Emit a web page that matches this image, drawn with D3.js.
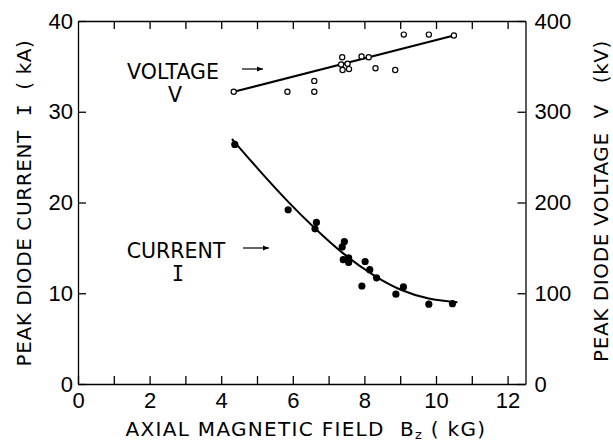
<!DOCTYPE html>
<meta charset="utf-8">
<style>
body { margin: 0; background: #fff; }
svg { font-family: "DejaVu Sans", sans-serif; }
svg text { white-space: pre; }
.axis path, .axis line { stroke: #000; stroke-width: 1.3; }
.axis text { font-size: 22px; fill: #000; }
.title { font-size: 20px; letter-spacing: 0.6px; fill: #000; }
.note { font-size: 20.5px; fill: #000; }
</style>
<body>
<script src="https://cdn.jsdelivr.net/npm/d3@7"></script>
<script>

var width = 613,
    height = 444;

// open circles: diode voltage (kV) vs field (kG)
var voltB = [4.35, 5.85, 6.6, 6.6, 7.38, 7.35, 7.53, 7.39, 7.57, 7.92, 8.12, 8.31, 8.86, 9.1, 9.8, 10.5];
var voltV = [322, 322, 322, 334, 360, 352, 353, 346, 347, 361, 360, 348, 346, 385, 385, 384];

// filled circles: diode current (kA) vs field (kG)
var currB = [4.38, 5.87, 6.66, 6.62, 7.44, 7.38, 7.41, 7.56, 7.56, 8.02, 8.15, 8.34, 7.93, 8.88, 9.09, 9.8, 10.46];
var currI = [26.4, 19.2, 17.8, 17.1, 15.7, 15.1, 13.7, 13.9, 13.4, 13.5, 12.6, 11.7, 10.8, 9.9, 10.7, 8.8, 8.85];

// hand drawn fits
var voltFitB = [4.35, 10.5];
var voltFitV = [322, 384];
var currFitB = [4.3, 5.0, 5.9, 6.6, 7.4, 8.3, 9.0, 9.8, 10.6];
var currFitI = [27.0, 23.8, 19.9, 17.2, 14.3, 11.8, 10.3, 9.3, 9.0];

var xLabels = [0, 2, 4, 6, 8, 10, 12];

var x = d3.scaleLinear().domain([0, 12.5]).range([78, 525.5]);
var y = d3.scaleLinear().domain([0, 40]).range([384, 21]);
var yV = d3.scaleLinear().domain([0, 400]).range([384, 21]);

var svg = d3.select("body").append("svg")
    .attr("width", width)
    .attr("height", height);

svg.append("defs").append("marker")
    .attr("id", "arrow")
    .attr("viewBox", "0 0 10 10")
    .attr("refX", 10).attr("refY", 5)
    .attr("markerWidth", 8).attr("markerHeight", 6)
    .attr("markerUnits", "userSpaceOnUse")
    .attr("orient", "auto")
  .append("path")
    .attr("d", "M0,1L10,5L0,9Z")
    .attr("fill", "#000");

// axes
svg.append("g")
    .attr("class", "axis")
    .attr("transform", "translate(0," + y(0) + ")")
    .call(d3.axisBottom(x)
      .tickValues(d3.range(0, 13))
      .tickSize(-8).tickSizeOuter(0)
      .tickPadding(8)
      .tickFormat(function(d) { return xLabels.indexOf(d) >= 0 ? d : ""; }));

svg.append("g")
    .attr("class", "axis")
    .attr("transform", "translate(0," + y(40) + ")")
    .call(d3.axisTop(x)
      .tickValues(d3.range(1, 13))
      .tickSize(-8).tickSizeOuter(0)
      .tickFormat(""));

svg.append("g")
    .attr("class", "axis")
    .attr("transform", "translate(" + x(0) + ",0)")
    .call(d3.axisLeft(y)
      .tickValues([0, 10, 20, 30, 40])
      .tickSize(-8).tickSizeOuter(0)
      .tickPadding(5));

svg.append("g")
    .attr("class", "axis")
    .attr("transform", "translate(" + x(12.5) + ",0)")
    .call(d3.axisRight(yV)
      .tickValues([0, 100, 200, 300, 400])
      .tickSize(-8).tickSizeOuter(0)
      .tickPadding(9));

// fits
var line = d3.line().curve(d3.curveBasis);

svg.append("path")
    .attr("d", d3.line()(voltFitB.map(function(b, i) { return [x(b), yV(voltFitV[i])]; })))
    .attr("fill", "none")
    .attr("stroke", "#000")
    .attr("stroke-width", 2);

svg.append("path")
    .attr("d", line(currFitB.map(function(b, i) { return [x(b), y(currFitI[i])]; })))
    .attr("fill", "none")
    .attr("stroke", "#000")
    .attr("stroke-width", 2);

// points
svg.append("g").selectAll("circle")
    .data(voltB)
  .enter().append("circle")
    .attr("cx", function(d) { return x(d); })
    .attr("cy", function(d, i) { return yV(voltV[i]); })
    .attr("r", 2.6)
    .attr("fill", "#fff")
    .attr("stroke", "#000")
    .attr("stroke-width", 1.2);

svg.append("g").selectAll("circle")
    .data(currB)
  .enter().append("circle")
    .attr("cx", function(d) { return x(d); })
    .attr("cy", function(d, i) { return y(currI[i]); })
    .attr("r", 3.6)
    .attr("fill", "#000");

// labels on curves
svg.append("text").attr("class", "note")
    .attr("x", 173).attr("y", 79).attr("text-anchor", "middle")
    .text("VOLTAGE");
svg.append("text").attr("class", "note")
    .attr("x", 175).attr("y", 102).attr("text-anchor", "middle")
    .text("V");
svg.append("line")
    .attr("x1", 242).attr("y1", 69).attr("x2", 263).attr("y2", 69)
    .attr("stroke", "#000").attr("stroke-width", 1.2)
    .attr("marker-end", "url(#arrow)");

svg.append("text").attr("class", "note")
    .attr("x", 176).attr("y", 258).attr("text-anchor", "middle")
    .text("CURRENT");
svg.append("text").attr("class", "note")
    .attr("x", 178).attr("y", 281).attr("text-anchor", "middle")
    .style("font-family", "DejaVu Sans Mono")
    .text("I");
svg.append("line")
    .attr("x1", 243).attr("y1", 248).attr("x2", 269).attr("y2", 248)
    .attr("stroke", "#000").attr("stroke-width", 1.2)
    .attr("marker-end", "url(#arrow)");

// axis titles
svg.append("text").attr("class", "title")
    .attr("transform", "translate(31,203) rotate(-90)")
    .attr("text-anchor", "middle")
    .html("PEAK DIODE CURRENT  <tspan style='font-family:DejaVu Sans Mono'>I</tspan>  ( kA)");

svg.append("text").attr("class", "title")
    .attr("transform", "translate(608,201) rotate(-90)")
    .attr("text-anchor", "middle")
    .text("PEAK DIODE VOLTAGE  V   (kV)");

svg.append("text").attr("class", "title")
    .attr("x", 306).attr("y", 436)
    .attr("text-anchor", "middle")
    .style("letter-spacing", "1.3px")
    .html("AXIAL MAGNETIC FIELD  B<tspan dy='3' font-size='13'>z</tspan><tspan dy='-3'> ( kG)</tspan>");

</script>
</body>
